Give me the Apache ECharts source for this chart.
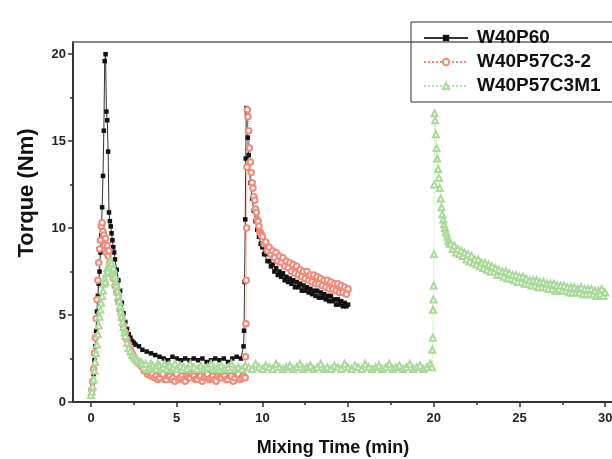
<!DOCTYPE html>
<html>
<head>
<meta charset="utf-8">
<script src="https://cdn.jsdelivr.net/npm/echarts@6/dist/echarts.min.js"></script>
<style>html,body{margin:0;padding:0;background:#fff}#c{width:612px;height:459px}</style>
</head>
<body>
<div id="c"></div>
<script>
// ---- data (time in min, torque in Nm) ----
const seriesNames = ['W40P60', 'W40P57C3-2', 'W40P57C3M1'];
const xTickLabels = [0, 5, 10, 15, 20, 25, 30];
const xMinorTicks = [2.5, 7.5, 12.5, 17.5, 22.5, 27.5];
const yTickLabels = [0, 5, 10, 15, 20];
const yMinorTicks = [2.5, 7.5, 12.5, 17.5];

const w40p60 = [
[0.05,0.5],[0.1,1.0],[0.15,1.6],[0.2,2.4],[0.25,3.2],[0.3,4.1],[0.35,5.2],[0.4,6.1],[0.45,6.8],[0.5,7.5],
[0.55,8.6],[0.6,9.6],[0.65,11.2],[0.7,13.0],[0.75,15.6],[0.8,19.6],[0.85,20.0],[0.9,16.7],[0.95,16.2],[1.0,14.4],
[1.05,10.9],[1.1,10.4],[1.15,10.1],[1.2,9.7],[1.25,9.3],[1.3,8.9],[1.35,8.6],[1.4,8.2],[1.5,7.6],[1.6,7.0],
[1.7,6.4],[1.8,5.7],[1.9,5.1],[2.0,4.6],[2.1,4.2],[2.2,3.9],[2.3,3.7],[2.4,3.5],[2.5,3.4],[2.6,3.3],[2.8,3.2],
[3.0,3.0],[3.25,2.9],[3.5,2.8],[3.75,2.7],[4.0,2.6],[4.25,2.5],[4.5,2.4],[4.75,2.6],[5.0,2.5],[5.25,2.4],
[5.5,2.5],[5.75,2.4],[6.0,2.5],[6.25,2.4],[6.5,2.5],[6.75,2.3],[7.0,2.4],[7.25,2.5],[7.5,2.4],[7.75,2.5],
[8.0,2.3],[8.25,2.5],[8.5,2.6],[8.75,2.5],[8.9,3.2],[8.93,4.1],[8.96,6.9],[9.0,10.5],[9.03,14.0],[9.06,16.9],
[9.1,16.6],[9.15,15.2],[9.2,14.2],[9.3,12.6],[9.4,11.7],[9.5,11.0],[9.6,10.4],[9.7,9.9],[9.8,9.5],[9.9,9.1],
[10.0,8.9],[10.1,8.5],[10.2,8.5],[10.3,8.1],[10.4,8.1],[10.5,7.8],[10.6,7.9],[10.7,7.5],[10.8,7.7],[10.9,7.3],
[11.0,7.5],[11.1,7.2],[11.2,7.4],[11.3,7.0],[11.4,7.2],[11.5,6.9],[11.6,7.1],[11.7,6.8],[11.8,7.0],[11.9,6.6],
[12.0,6.9],[12.1,6.6],[12.2,6.8],[12.3,6.4],[12.4,6.7],[12.5,6.4],[12.6,6.6],[12.7,6.3],[12.8,6.5],[12.9,6.2],
[13.0,6.4],[13.1,6.1],[13.2,6.4],[13.3,6.0],[13.4,6.3],[13.5,6.0],[13.6,6.2],[13.7,5.9],[13.8,6.1],[13.9,5.8],
[14.0,6.1],[14.1,5.8],[14.2,5.9],[14.3,5.6],[14.4,5.9],[14.5,5.6],[14.6,5.8],[14.7,5.5],[14.8,5.7],[14.9,5.5],[15.0,5.6]
];

const w40p57c3_2 = [
[0.05,0.7],[0.1,1.2],[0.15,1.9],[0.2,2.8],[0.25,3.7],[0.3,4.8],[0.35,5.9],[0.4,7.0],[0.45,8.0],[0.5,8.8],
[0.55,9.3],[0.6,10.1],[0.65,10.3],[0.7,9.8],[0.75,9.6],[0.8,9.0],[0.85,9.4],[0.9,8.6],[0.95,9.0],[1.0,8.4],
[1.05,8.7],[1.1,8.0],[1.15,7.8],[1.2,7.5],[1.3,7.1],[1.4,6.7],[1.5,6.3],[1.6,5.8],[1.7,5.3],[1.8,4.8],
[1.9,4.4],[2.0,4.0],[2.1,3.6],[2.2,3.3],[2.3,3.0],[2.4,2.8],[2.5,2.6],[2.6,2.4],[2.7,2.3],[2.8,2.2],
[2.9,2.1],[3.0,2.0],[3.1,1.8],[3.2,1.8],[3.3,1.6],[3.4,1.7],[3.5,1.5],[3.6,1.6],[3.7,1.4],[3.8,1.5],
[3.9,1.3],[4.0,1.4],[4.1,1.6],[4.2,1.6],[4.3,1.3],[4.4,1.3],[4.5,1.5],[4.6,1.5],[4.7,1.3],[4.8,1.4],
[4.9,1.2],[5.0,1.6],[5.1,1.3],[5.2,1.4],[5.3,1.5],[5.4,1.3],[5.5,1.2],[5.6,1.5],[5.7,1.4],[5.8,1.4],
[5.9,1.6],[6.0,1.5],[6.1,1.3],[6.2,1.3],[6.3,1.5],[6.4,1.5],[6.5,1.2],[6.6,1.4],[6.7,1.5],[6.8,1.6],
[6.9,1.3],[7.0,1.4],[7.1,1.5],[7.2,1.3],[7.3,1.2],[7.4,1.5],[7.5,1.4],[7.6,1.4],[7.7,1.6],[7.8,1.5],
[7.9,1.3],[8.0,1.3],[8.1,1.5],[8.2,1.5],[8.3,1.2],[8.4,1.4],[8.5,1.6],[8.6,1.6],[8.7,1.3],[8.8,1.4],
[8.9,1.5],[9.0,1.4],[9.02,2.6],[9.04,4.5],[9.06,7.0],[9.08,10.0],[9.1,13.5],[9.12,16.8],[9.16,16.4],[9.2,15.6],
[9.25,14.6],[9.3,13.8],[9.35,13.2],[9.4,12.6],[9.45,12.3],[9.5,11.8],[9.55,11.6],[9.6,11.1],[9.65,10.9],[9.7,10.5],
[9.75,10.4],[9.8,10.1],[9.85,9.8],[9.9,9.7],[9.95,9.6],
[10.0,9.5],[10.1,9.1],[10.2,9.2],[10.3,8.7],[10.4,8.9],[10.5,8.5],[10.6,8.7],[10.7,8.3],[10.8,8.6],[10.9,8.1],
[11.0,8.4],[11.1,8.0],[11.2,8.3],[11.3,7.8],[11.4,8.1],[11.5,7.7],[11.6,8.0],[11.7,7.5],[11.8,7.9],[11.9,7.4],
[12.0,7.8],[12.1,7.3],[12.2,7.6],[12.3,7.2],[12.4,7.5],[12.5,7.1],[12.6,7.5],[12.7,7.0],[12.8,7.3],[12.9,6.9],
[13.0,7.3],[13.1,6.8],[13.2,7.2],[13.3,6.8],[13.4,7.1],[13.5,6.7],[13.6,7.0],[13.7,6.6],[13.8,7.0],[13.9,6.5],
[14.0,6.9],[14.1,6.5],[14.2,6.8],[14.3,6.4],[14.4,6.8],[14.5,6.3],[14.6,6.7],[14.7,6.3],[14.8,6.6],[14.9,6.2],[15.0,6.5]
];

const w40p57c3m1 = [
[0.0,0.4],[0.05,0.6],[0.1,0.9],[0.15,1.3],[0.2,1.8],[0.25,2.3],[0.3,2.8],[0.35,3.3],[0.4,3.9],[0.45,4.4],
[0.5,4.9],[0.55,5.3],[0.6,5.7],[0.65,6.1],[0.7,6.4],[0.75,6.8],[0.8,7.1],[0.85,6.9],[0.9,7.4],[0.95,7.7],
[1.0,7.5],[1.05,7.9],[1.1,8.1],[1.15,7.8],[1.2,8.0],[1.25,7.6],[1.3,7.7],[1.35,7.3],[1.4,7.2],[1.45,6.9],
[1.5,6.7],[1.55,6.4],[1.6,6.1],[1.65,5.8],[1.7,5.5],[1.75,5.2],[1.8,4.9],[1.85,4.6],[1.9,4.3],[1.95,4.0],
[2.0,3.8],[2.1,3.4],[2.2,3.1],[2.3,2.9],[2.4,2.7],[2.5,2.6],[2.6,2.5],[2.7,2.4],[2.8,2.3],[2.9,2.3],
[3.0,2.2],[3.1,2.0],[3.2,2.2],[3.3,1.9],[3.4,2.0],[3.5,2.2],[3.6,2.1],[3.7,1.9],[3.8,1.9],[3.9,2.2],
[4.0,2.1],[4.1,1.9],[4.2,2.0],[4.3,2.2],[4.4,1.9],[4.5,2.1],[4.6,2.1],[4.7,1.9],[4.8,2.0],[4.9,2.2],
[5.0,1.9],[5.2,2.1],[5.4,2.0],[5.6,1.9],[5.8,2.2],[6.0,2.0],[6.2,1.9],[6.4,2.1],[6.6,1.9],[6.8,2.0],
[7.0,2.2],[7.2,1.9],[7.4,2.0],[7.6,2.1],[7.8,1.9],[8.0,2.0],[8.2,2.2],[8.4,1.9],[8.6,2.0],[8.8,1.9],
[9.0,2.1],[9.2,2.0],[9.4,1.9],[9.6,2.2],[9.8,2.0],[10.0,1.9],[10.2,2.1],[10.4,2.0],[10.6,1.9],[10.8,2.2],
[11.0,2.0],[11.2,1.9],[11.4,2.0],[11.6,2.1],[11.8,1.9],[12.0,2.0],[12.2,2.2],[12.4,1.9],[12.6,2.0],[12.8,2.1],
[13.0,1.9],[13.2,2.0],[13.4,2.2],[13.6,1.9],[13.8,2.0],[14.0,1.9],[14.2,2.1],[14.4,2.0],[14.6,1.9],[14.8,2.2],
[15.0,2.0],[15.2,1.9],[15.4,2.1],[15.6,2.0],[15.8,1.9],[16.0,2.2],[16.2,2.0],[16.4,1.9],[16.6,2.0],[16.8,2.1],
[17.0,1.9],[17.2,2.0],[17.4,2.2],[17.6,1.9],[17.8,2.0],[18.0,2.1],[18.2,1.9],[18.4,2.0],[18.6,2.2],[18.8,1.9],
[19.0,2.0],[19.2,2.1],[19.4,1.9],[19.6,2.0],[19.8,2.2],[19.9,2.0],[19.92,3.0],[19.94,3.7],[19.96,5.3],[19.98,5.9],
[20.0,6.7],[20.01,8.5],[20.03,12.5],[20.05,16.6],[20.08,16.2],[20.12,15.4],[20.16,14.6],[20.2,14.0],[20.25,13.4],[20.3,12.9],
[20.35,12.3],[20.4,11.7],[20.45,11.2],[20.5,10.8],[20.55,10.5],[20.6,10.2],[20.65,10.0],[20.7,9.8],[20.75,9.7],[20.8,9.5],
[20.85,9.3],[20.9,9.2],[20.95,9.1],
[21.0,9.1],[21.1,8.8],[21.2,9.0],[21.3,8.6],[21.4,8.8],[21.5,8.5],[21.6,8.7],[21.7,8.4],[21.8,8.6],[21.9,8.2],
[22.0,8.5],[22.1,8.1],[22.2,8.4],[22.3,8.0],[22.4,8.2],[22.5,7.9],[22.6,8.2],[22.7,7.8],[22.8,8.0],[22.9,7.7],
[23.0,8.0],[23.1,7.6],[23.2,7.9],[23.3,7.5],[23.4,7.8],[23.5,7.5],[23.6,7.7],[23.7,7.3],[23.8,7.6],[23.9,7.3],
[24.0,7.5],[24.1,7.2],[24.2,7.5],[24.3,7.1],[24.4,7.4],[24.5,7.1],[24.6,7.3],[24.7,7.0],[24.8,7.3],[24.9,6.9],
[25.0,7.2],[25.1,6.9],[25.2,7.2],[25.3,6.8],[25.4,7.1],[25.5,6.8],[25.6,7.0],[25.7,6.7],[25.8,7.0],[25.9,6.7],
[26.0,7.0],[26.1,6.6],[26.2,6.9],[26.3,6.6],[26.4,6.9],[26.5,6.6],[26.6,6.8],[26.7,6.5],[26.8,6.8],[26.9,6.5],
[27.0,6.8],[27.1,6.4],[27.2,6.7],[27.3,6.5],[27.4,6.7],[27.5,6.4],[27.6,6.7],[27.7,6.4],[27.8,6.6],[27.9,6.3],
[28.0,6.6],[28.1,6.3],[28.2,6.6],[28.3,6.3],[28.4,6.5],[28.5,6.3],[28.6,6.6],[28.7,6.2],[28.8,6.5],[28.9,6.2],
[29.0,6.5],[29.1,6.2],[29.2,6.5],[29.3,6.2],[29.4,6.4],[29.5,6.1],[29.6,6.4],[29.7,6.2],[29.8,6.5],[29.9,6.1],[30.0,6.3]
];

// ---- chart ----
const FONT = 'Liberation Sans, Arial, Helvetica, sans-serif';
const X_MIN = -1.05, X_MAX = 30.4;
const chart = echarts.init(document.getElementById('c'), null, {renderer: 'canvas'});
const axisColor = '#333';
chart.setOption({
  animation: false,
  backgroundColor: '#fff',
  textStyle: {fontFamily: FONT},
  grid: {left: 73, right: 0, top: 42, bottom: 57, containLabel: false, outerBoundsMode: 'none'},
  legend: {
    orient: 'vertical', left: 411, top: 22,
    itemWidth: 44, itemHeight: 8, itemGap: 4,
    padding: [6, 30, 6, 12],
    borderColor: '#333', borderWidth: 1,
    textStyle: {fontFamily: FONT, fontSize: 19, fontWeight: 'bold', color: '#111', lineHeight: 20, padding: [0, 0, 0, 4]},
    data: seriesNames
  },
  xAxis: [
    {
      type: 'value', min: X_MIN, max: X_MAX, position: 'bottom',
      name: 'Mixing Time (min)', nameLocation: 'middle', nameGap: 37,
      nameTextStyle: {fontFamily: FONT, fontSize: 18, fontWeight: 'bold', color: '#111', padding: [0, 19, 0, 0]},
      axisLine: {show: true, onZero: false, lineStyle: {color: axisColor, width: 2}},
      axisTick: {show: true, length: 5, customValues: xTickLabels, lineStyle: {color: axisColor, width: 1.5}},
      axisLabel: {show: true, customValues: xTickLabels, margin: 10, fontFamily: FONT, fontSize: 13, fontWeight: 'bold', color: '#222'},
      splitLine: {show: false}
    },
    {
      type: 'value', min: X_MIN, max: X_MAX, position: 'bottom',
      axisLine: {show: false, onZero: false},
      axisTick: {show: true, length: 3, customValues: xMinorTicks, lineStyle: {color: axisColor, width: 1.5}},
      axisLabel: {show: false},
      splitLine: {show: false}
    },
    {
      type: 'value', min: X_MIN, max: X_MAX, position: 'top',
      axisLine: {show: true, onZero: false, lineStyle: {color: '#666', width: 1.5}},
      axisTick: {show: false}, axisLabel: {show: false}, splitLine: {show: false}
    }
  ],
  yAxis: [
    {
      type: 'value', min: 0, max: 20.7, position: 'left',
      axisLine: {show: true, onZero: false, lineStyle: {color: axisColor, width: 2}},
      axisTick: {show: true, length: 5, customValues: yTickLabels, lineStyle: {color: axisColor, width: 1.5}},
      axisLabel: {show: true, customValues: yTickLabels, margin: 7, fontFamily: FONT, fontSize: 13, fontWeight: 'bold', color: '#222'},
      splitLine: {show: false}
    },
    {
      type: 'value', min: 0, max: 20.7, position: 'left',
      axisLine: {show: false, onZero: false},
      axisTick: {show: true, length: 3, customValues: yMinorTicks, lineStyle: {color: axisColor, width: 1.5}},
      axisLabel: {show: false},
      splitLine: {show: false}
    }
  ],
  graphic: [
    {
      type: 'text', x: 27, y: 193, rotation: Math.PI / 2,
      style: {text: 'Torque (Nm)', font: 'bold 22px ' + FONT, fill: '#111', textAlign: 'center', textVerticalAlign: 'middle'}
    }
  ],
  series: [
    {
      name: seriesNames[0], type: 'line', xAxisIndex: 0, yAxisIndex: 0, data: w40p60,
      symbol: 'rect', symbolSize: 4.5, showAllSymbol: true,
      itemStyle: {color: '#111'},
      lineStyle: {color: '#333', width: 1}
    },
    {
      name: seriesNames[1], type: 'line', xAxisIndex: 0, yAxisIndex: 0, data: w40p57c3_2,
      symbol: 'emptyCircle', symbolSize: 5.5, showAllSymbol: true,
      itemStyle: {color: '#f28a79', borderWidth: 1},
      lineStyle: {color: '#f28a79', width: 1, type: 'dotted'}
    },
    {
      name: seriesNames[2], type: 'line', xAxisIndex: 0, yAxisIndex: 0, data: w40p57c3m1,
      symbol: 'emptyTriangle', symbolSize: 6, showAllSymbol: true,
      itemStyle: {color: '#a9da99', borderWidth: 1},
      lineStyle: {color: '#bce2ae', width: 1, type: 'dotted'}
    }
  ]
});
</script>
</body>
</html>
